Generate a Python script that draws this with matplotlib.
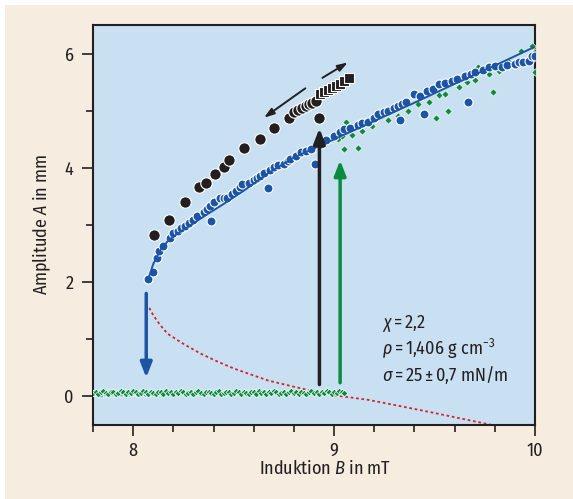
import matplotlib
matplotlib.use("Agg")
import matplotlib.pyplot as plt
import numpy as np
from matplotlib import font_manager as fm
from matplotlib.patches import Rectangle

# condensed font like in the original, first one that is installed
installed = {f.name for f in fm.fontManager.ttflist}
font = 'DejaVu Sans'
for cand in ['Fira Sans Condensed', 'Roboto Condensed', 'Liberation Sans Narrow']:
    if cand in installed:
        font = cand
        break
plt.rcParams['font.family'] = [font, 'DejaVu Sans']
plt.rcParams['mathtext.fontset'] = 'custom'
plt.rcParams['mathtext.rm'] = font
plt.rcParams['mathtext.it'] = font + ':italic'

# upper branch, increasing field (blue circles)
blue_B = [8.075, 8.097, 8.117, 8.13, 8.15, 8.183, 8.20, 8.225, 8.24, 8.26, 8.28, 8.30,
          8.32, 8.35, 8.365, 8.38, 8.387, 8.40, 8.43, 8.45, 8.465, 8.49, 8.51, 8.53,
          8.54, 8.575, 8.60, 8.617, 8.63, 8.65, 8.67, 8.68, 8.70, 8.72, 8.75, 8.77,
          8.78, 8.81, 8.835, 8.86, 8.885, 8.905, 8.935, 8.96, 9.0, 9.03, 9.05, 9.08,
          9.12, 9.14, 9.17, 9.20, 9.22, 9.25, 9.27, 9.30, 9.32, 9.327, 9.34, 9.36,
          9.40, 9.43, 9.447, 9.46, 9.49, 9.52, 9.55, 9.585, 9.61, 9.65, 9.667, 9.68,
          9.70, 9.74, 9.77, 9.80, 9.835, 9.86, 9.90, 9.92, 9.94, 9.97, 9.985, 10.0]
blue_A = [2.06, 2.18, 2.42, 2.55, 2.64, 2.77, 2.86, 2.90, 2.95, 2.99, 3.04, 3.08,
          3.15, 3.22, 3.28, 3.33, 3.07, 3.40, 3.47, 3.47, 3.48, 3.55, 3.60, 3.66,
          3.71, 3.73, 3.78, 3.83, 3.86, 3.91, 3.64, 3.97, 4.02, 4.05, 4.07, 4.12,
          4.15, 4.20, 4.27, 4.30, 4.33, 4.06, 4.42, 4.48, 4.56, 4.62, 4.68, 4.70,
          4.75, 4.78, 4.80, 4.88, 4.94, 4.97, 5.00, 5.05, 5.09, 4.83, 5.12, 5.15,
          5.30, 5.25, 4.95, 5.35, 5.38, 5.47, 5.48, 5.52, 5.55, 5.61, 5.15, 5.65,
          5.68, 5.72, 5.76, 5.78, 5.76, 5.80, 5.82, 5.85, 5.86, 5.87, 5.96, 5.95]

# fitted curve of the upper branch
fit_B = [8.075, 8.10, 8.133, 8.17, 8.217, 8.30, 8.383, 8.46, 8.55, 8.67, 8.80, 8.90,
         9.0, 9.2, 9.4, 9.6, 9.8, 10.0]
fit_A = [2.05, 2.32, 2.55, 2.71, 2.84, 3.03, 3.22, 3.39, 3.60, 3.90, 4.18, 4.34,
         4.50, 4.82, 5.14, 5.47, 5.79, 6.12]

# black circles (decreasing field) and black squares
black_B = [8.105, 8.18, 8.257, 8.33, 8.36, 8.405, 8.45, 8.478, 8.553, 8.63, 8.70, 8.777,
           8.80, 8.82, 8.84, 8.86, 8.875, 8.89, 8.91, 8.927]
black_A = [2.83, 3.09, 3.41, 3.66, 3.74, 3.89, 4.02, 4.14, 4.35, 4.50, 4.70, 4.87,
           4.97, 5.01, 5.05, 5.08, 5.11, 5.14, 5.17, 4.88]
square_B = [8.93, 8.95, 8.97, 8.99, 9.01, 9.03, 9.05, 9.075]
square_A = [5.30, 5.33, 5.37, 5.40, 5.43, 5.47, 5.52, 5.58]

# green diamonds on the upper branch
green_B = [9.02, 9.04, 9.047, 9.06, 9.077, 9.09, 9.12, 9.14, 9.19, 9.27, 9.32, 9.37,
           9.42, 9.47, 9.507, 9.52, 9.55, 9.565, 9.62, 9.66, 9.70, 9.715, 9.77, 9.79,
           9.82, 9.87, 9.87, 9.93, 9.935, 9.985, 10.0, 10.0]
green_A = [4.50, 4.55, 4.33, 4.81, 4.68, 4.58, 4.35, 4.65, 4.74, 4.84, 4.91, 5.00,
           5.12, 5.16, 4.88, 5.27, 5.29, 5.00, 5.41, 5.50, 5.54, 5.76, 5.64, 5.33,
           5.70, 5.79, 5.85, 6.05, 5.87, 6.14, 6.02, 5.67]

# flat state (green diamonds), field sweep 7.80 ... 9.05 mT
flat_B = np.linspace(7.80, 9.05, 101)
flat_A = [0.06, 0.08, 0.05, 0.07, 0.09, 0.06, 0.04, 0.07, 0.08, 0.05, 0.06, 0.09,
          0.07, 0.05, 0.08, 0.06, 0.10, 0.07, 0.05, 0.06, 0.09, 0.08, 0.05, 0.07,
          0.06, 0.04, 0.08, 0.07, 0.05, 0.09, 0.06, 0.07, 0.05, 0.08, 0.06, 0.09,
          0.07, 0.04, 0.06, 0.08, 0.05, 0.07, 0.09, 0.06, 0.05, 0.08, 0.07, 0.06,
          0.04, 0.07, 0.09, 0.05, 0.06, 0.08, 0.07, 0.05, 0.06, 0.09, 0.08, 0.05,
          0.07, 0.06, 0.04, 0.08, 0.07, 0.05, 0.09, 0.06, 0.07, 0.05, 0.08, 0.06,
          0.09, 0.07, 0.05, 0.06, 0.08, 0.05, 0.07, 0.09, 0.06, 0.08, 0.05, 0.07,
          0.06, 0.04, 0.08, 0.09, 0.06, 0.07, 0.05, 0.08, 0.06, 0.10, 0.07, 0.05,
          0.08, 0.06, 0.09, 0.07, 0.06]
flat_blue_B = [7.80, 7.82, 7.84, 7.86, 7.88, 7.90, 7.92, 7.94, 7.96, 7.98, 8.00,
               8.02, 8.04, 8.06, 8.08]
flat_blue_A = [0.04, 0.06, 0.03, 0.05, 0.07, 0.04, 0.06, 0.05, 0.08, 0.04, 0.06,
               0.05, 0.07, 0.04, 0.06]

# unstable branch (red dotted)
red_B = [8.08, 8.10, 8.13, 8.17, 8.25, 8.335, 8.42, 8.50, 8.67, 8.835, 9.0, 9.17,
         9.33, 9.5, 9.65, 9.80]
red_A = [1.55, 1.42, 1.27, 1.10, 0.92, 0.75, 0.61, 0.49, 0.28, 0.14, 0.02, -0.06,
         -0.17, -0.29, -0.40, -0.51]

BLUE = '#1c55a5'
GREEN = '#0c8a40'
BLACK = '#231f20'
RED = '#d2232a'

fig = plt.figure(figsize=(5.73, 4.99), dpi=100, facecolor='white')
fig.patches.append(Rectangle((5 / 573, 0), 1, 494 / 499, transform=fig.transFigure,
                             facecolor='#f6ecdf', edgecolor='none', zorder=-10))
ax = fig.add_axes([93 / 573, 74 / 499, 442 / 573, 400 / 499])
ax.set_facecolor('#c8e0f2')

# flat state
ax.scatter(flat_blue_B, flat_blue_A, s=14, facecolor='#6f9fd8', edgecolor='white',
           linewidth=0.6, zorder=2)
ax.scatter(flat_B, flat_A, s=12, marker='D', facecolor=GREEN, edgecolor='white',
           linewidth=0.5, zorder=3)

# unstable branch
ax.plot(red_B, red_A, color=RED, linestyle=(0, (1.5, 1.5)), linewidth=1.3, zorder=2)

# upper branch
ax.scatter(green_B, green_A, s=14, marker='D', facecolor=GREEN, edgecolor='white',
           linewidth=0.5, zorder=3)
ax.scatter(blue_B, blue_A, s=42, facecolor=BLUE, edgecolor='white',
           linewidth=0.8, zorder=4)
ax.plot(fit_B, fit_A, color=BLUE, linewidth=1.4, zorder=5)
ax.scatter(black_B, black_A, s=68, facecolor=BLACK, edgecolor='white',
           linewidth=0.8, zorder=5)
ax.scatter(square_B, square_A, s=60, marker='s', facecolor=BLACK, edgecolor='white',
           linewidth=0.8, zorder=5)

# jump arrows
ax.annotate('', xy=(8.065, 0.28), xytext=(8.065, 1.85),
            arrowprops=dict(arrowstyle='-|>,head_width=0.35,head_length=0.9',
                            color=BLUE, lw=2.5), zorder=6)
ax.annotate('', xy=(8.927, 4.74), xytext=(8.927, 0.16),
            arrowprops=dict(arrowstyle='-|>,head_width=0.35,head_length=0.9',
                            color=BLACK, lw=2.5), zorder=6)
ax.annotate('', xy=(9.03, 4.18), xytext=(9.03, 0.19),
            arrowprops=dict(arrowstyle='-|>,head_width=0.35,head_length=0.9',
                            color=GREEN, lw=2.5), zorder=6)
# sweep direction arrows
ax.annotate('', xy=(8.64, 4.85), xytext=(8.868, 5.42),
            arrowprops=dict(arrowstyle='-|>,head_width=0.2,head_length=0.6',
                            color=BLACK, lw=1.4), zorder=6)
ax.annotate('', xy=(9.08, 5.87), xytext=(8.93, 5.55),
            arrowprops=dict(arrowstyle='-|>,head_width=0.2,head_length=0.6',
                            color=BLACK, lw=1.4), zorder=6)

# parameters
params = [r'$\chi = 2{,}2$',
          r'$\rho = 1{,}406\ \mathrm{g\ cm}^{-3}$',
          r'$\sigma = 25 \pm 0{,}7\ \mathrm{mN/m}$']
for i, s in enumerate(params):
    ax.text(9.24, 1.28 - i * 0.45, s, fontsize=13, color=BLACK, va='center', ha='left')

ax.set_xlim(7.8, 10)
ax.set_ylim(-0.5, 6.5)
ax.set_xticks([8, 9, 10])
ax.set_xticks(np.arange(7.8, 10.01, 0.2), minor=True)
ax.set_yticks([0, 2, 4, 6])
ax.set_yticks([1, 3, 5], minor=True)
ax.tick_params(which='both', direction='out', color=BLACK, width=1.2,
               labelsize=13, labelcolor=BLACK)
ax.tick_params(which='major', length=8)
ax.tick_params(which='minor', length=5)
ax.tick_params(axis='x', pad=4)
ax.tick_params(axis='y', pad=6)
for side in ['left', 'bottom', 'top', 'right']:
    ax.spines[side].set_linewidth(1.5)
    ax.spines[side].set_color(BLACK)

ax.set_xlabel(r'Induktion $B$ in mT', fontsize=13, color=BLACK, labelpad=6)
ax.xaxis.set_label_coords(0.525, -0.085)
ax.set_ylabel(r'Amplitude $A$ in mm', fontsize=13, color=BLACK, labelpad=8)

fig.savefig('out.png', dpi=100, facecolor='white')
